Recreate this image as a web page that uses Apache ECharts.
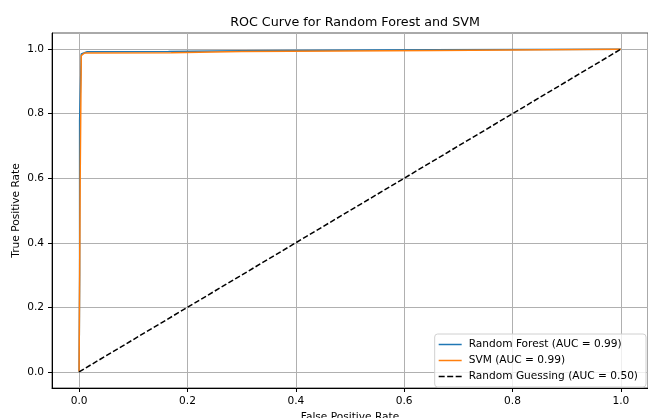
<!DOCTYPE html>
<html>
<head>
<meta charset="utf-8">
<script src="https://cdn.jsdelivr.net/npm/echarts@6/dist/echarts.min.js"></script>
<style>
  html, body { margin: 0; padding: 0; background: #fff; }
  #chart { width: 648px; height: 418px; }
</style>
</head>
<body>
<div id="chart"></div>
<script>
// ROC points [fpr, tpr]
const rfPoints = [
  [0, 0], [0.001, 0.3], [0.001, 0.78], [0.003, 0.78], [0.004, 0.985],
  [0.015, 0.992], [0.165, 0.993], [0.3, 0.995], [0.65, 0.998], [1, 1]
];
const svmPoints = [
  [0, 0], [0.002, 0.6], [0.004, 0.98], [0.01, 0.988], [0.17, 0.989],
  [0.17, 0.992], [0.3, 0.993], [0.3, 0.995], [0.655, 0.996], [0.655, 0.999], [1, 1]
];
const chancePoints = [[0, 0], [1, 1]];
const tickValues = [0, 0.2, 0.4, 0.6, 0.8, 1.0];
const seriesNames = ['Random Forest (AUC = 0.99)', 'SVM (AUC = 0.99)', 'Random Guessing (AUC = 0.50)'];

const font = 'DejaVu Sans';
const small = 10.6;
const solidIcon = 'path://M0,0h23v1.5h-23z';
const dashedIcon = 'path://M0,0h6v1.5h-6z M8.5,0h6v1.5h-6z M17,0h6v1.5h-6z';
const chart = echarts.init(document.getElementById('chart'));

function axisCommon(name, gap) {
  return {
    type: 'value',
    min: -0.05,
    max: 1.05,
    name: name,
    nameLocation: 'middle',
    nameGap: gap,
    nameMoveOverlap: false,
    nameTextStyle: { fontFamily: font, fontSize: small, color: '#000' },
    axisLine: { show: true, onZero: false, lineStyle: { color: '#000', width: 1 } },
    axisTick: { show: true, customValues: tickValues, length: 4, lineStyle: { color: '#000' } },
    axisLabel: {
      customValues: tickValues,
      formatter: v => v.toFixed(1),
      fontFamily: font, fontSize: small, color: '#000'
    },
    splitLine: { show: true, lineStyle: { color: '#b0b0b0', width: 1 } }
  };
}

chart.setOption({
  animation: false,
  title: {
    text: 'ROC Curve for Random Forest and SVM',
    left: 350,
    textAlign: 'center',
    top: 11,
    textStyle: { fontFamily: font, fontSize: 12.7, fontWeight: 'normal', color: '#000' }
  },
  grid: {
    left: 52, right: 0, top: 33, bottom: 30,
    outerBoundsMode: 'none',
    containLabel: false,
    show: true, borderColor: '#555', borderWidth: 1
  },
  xAxis: axisCommon('False Positive Rate', 24),
  yAxis: axisCommon('True Positive Rate', 30),
  legend: {
    orient: 'vertical',
    right: 2,
    bottom: 31,
    itemWidth: 23,
    itemHeight: 10,
    itemGap: 5,
    padding: [5, 8, 5, 4],
    borderColor: '#d0d0d0',
    borderWidth: 1,
    borderRadius: 3,
    backgroundColor: 'rgba(255,255,255,0.8)',
    textStyle: { fontFamily: font, fontSize: small, color: '#000', padding: [0, 0, 0, 2] },
    data: [
      { name: seriesNames[0], icon: solidIcon },
      { name: seriesNames[1], icon: solidIcon },
      { name: seriesNames[2], icon: dashedIcon }
    ]
  },
  series: [
    {
      name: seriesNames[0], type: 'line', data: rfPoints, showSymbol: false, symbol: 'none',
      lineStyle: { color: '#1f77b4', width: 1.5 }, itemStyle: { color: '#1f77b4' }
    },
    {
      name: seriesNames[1], type: 'line', data: svmPoints, showSymbol: false, symbol: 'none',
      lineStyle: { color: '#ff7f0e', width: 1.5 }, itemStyle: { color: '#ff7f0e' }
    },
    {
      name: seriesNames[2], type: 'line', data: chancePoints, showSymbol: false, symbol: 'none',
      lineStyle: { color: '#000', width: 1.5, type: [5.5, 2.4] }, itemStyle: { color: '#000' }
    }
  ]
});
</script>
</body>
</html>
